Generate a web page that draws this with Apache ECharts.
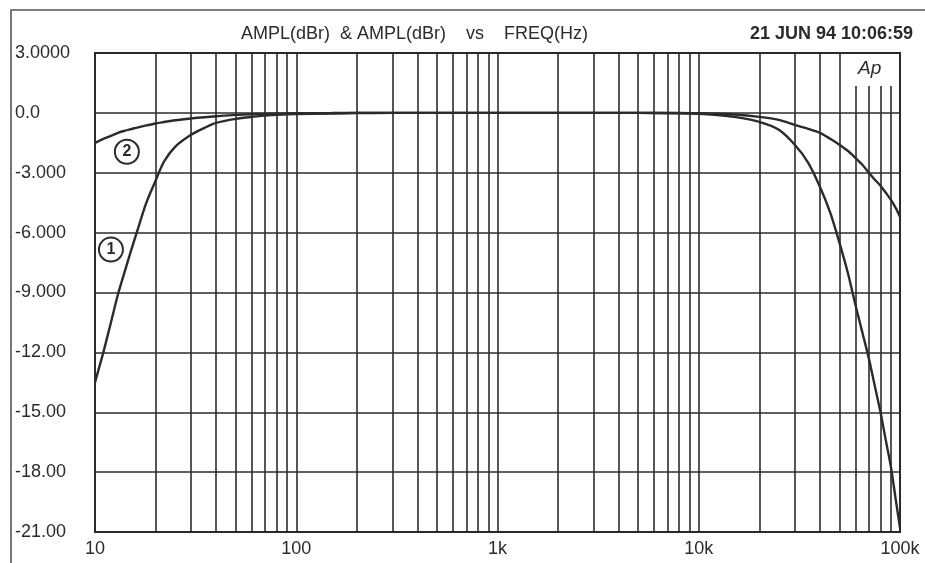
<!DOCTYPE html>
<html>
<head>
<meta charset="utf-8">
<script src="https://cdn.jsdelivr.net/npm/echarts@6/dist/echarts.min.js"></script>
<style>
  html, body { margin: 0; padding: 0; background: #fff; }
  #chart { width: 925px; height: 563px; }
</style>
</head>
<body>
<div id="chart"></div>
<script>
// frequencies (Hz) the two traces were read at
const freqs = [10, 11, 12, 13, 14, 15, 16, 18, 20, 22, 25, 30, 35, 40, 50, 60, 70, 80, 100, 150, 200, 300, 500, 1000,
  2000, 5000, 8000, 10000, 12000, 15000, 20000, 25000, 30000, 35000, 40000, 45000, 50000, 55000, 60000, 65000,
  70000, 75000, 80000, 85000, 90000, 95000, 100000];

// trace 1 (dBr)
const ampl1 = [-13.5, -12.0, -10.5, -9.1, -8.0, -7.0, -6.1, -4.5, -3.4, -2.45, -1.7, -1.1, -0.75, -0.5, -0.3, -0.2,
  -0.14, -0.1, -0.06, -0.03, -0.01, 0, 0, 0,
  0, 0, -0.02, -0.05, -0.1, -0.2, -0.45, -0.85, -1.6, -2.5, -3.7, -5.0, -6.5, -8.0, -9.6, -11.0,
  -12.3, -13.7, -15.0, -16.4, -17.7, -19.3, -20.8];

// trace 2 (dBr)
const ampl2 = [-1.5, -1.3, -1.15, -1.0, -0.9, -0.82, -0.75, -0.63, -0.53, -0.46, -0.37, -0.28, -0.22, -0.17, -0.1, -0.07,
  -0.05, -0.04, -0.02, -0.01, 0, 0, 0, 0,
  0, 0, -0.01, -0.02, -0.04, -0.08, -0.2, -0.35, -0.6, -0.8, -1.0, -1.3, -1.6, -1.9, -2.25, -2.6,
  -3.0, -3.35, -3.65, -4.0, -4.35, -4.75, -5.2];

const xTickValues = [10, 100, 1000, 10000, 100000];
const xTickLabels = ["10", "100", "1k", "10k", "100k"];
const yTickValues = [3, 0, -3, -6, -9, -12, -15, -18, -21];
const yTickLabels = ["3.0000", "0.0", "-3.000", "-6.000", "-9.000", "-12.00", "-15.00", "-18.00", "-21.00"];

// trace tags: circled number placed at [freq, dBr]
const traceTags = [
  { text: "1", freq: 12.0, db: -6.85 },
  { text: "2", freq: 14.4, db: -1.95 },
];

const ink = "#2b2b2b";
const font = "'Liberation Sans', Arial, sans-serif";

// log-spaced vertical grid: 2..9 within every decade
const minorGrid = [];
for (let d = 10; d < 100000; d *= 10) {
  for (let m = 2; m <= 9; m++) {
    minorGrid.push(d * m);
  }
}

function tagPoint(tag) {
  return {
    coord: [tag.freq, tag.db],
    value: tag.text,
    symbol: "circle",
    symbolSize: 24,
    itemStyle: { color: "#fff", borderColor: ink, borderWidth: 2 },
    label: {
      show: true,
      formatter: tag.text,
      color: ink,
      fontSize: 16,
      fontWeight: "bold",
      fontFamily: font,
    },
  };
}

const chart = echarts.init(document.getElementById("chart"));

chart.setOption({
  animation: false,
  backgroundColor: "#fff",
  title: [
    {
      text: "AMPL(dBr)  & AMPL(dBr)    vs    FREQ(Hz)",
      left: 236,
      top: 20,
      textStyle: { color: ink, fontSize: 18, fontWeight: "normal", fontFamily: font },
    },
    {
      text: "21 JUN 94 10:06:59",
      right: 7,
      top: 20,
      textStyle: { color: ink, fontSize: 18, fontWeight: "bold", fontFamily: font },
    },
  ],
  grid: { left: 95, right: 25, top: 53, bottom: 31, show: true, borderColor: ink, borderWidth: 2, backgroundColor: "#fff" },
  xAxis: {
    type: "log",
    logBase: 10,
    min: 10,
    max: 100000,
    axisLine: { show: false },
    axisTick: { show: false },
    splitLine: { show: true, lineStyle: { color: ink, width: 1.6 } },
    axisLabel: {
      color: ink,
      fontSize: 18,
      fontFamily: font,
      margin: 8,
      formatter: (v) => {
        const i = xTickValues.findIndex((t) => Math.abs(t - v) < t * 1e-6);
        return i >= 0 ? xTickLabels[i] : "";
      },
    },
  },
  yAxis: {
    type: "value",
    min: -21,
    max: 3,
    interval: 3,
    axisLine: { show: false },
    axisTick: { show: false },
    splitLine: { show: true, lineStyle: { color: ink, width: 1.6 } },
    axisLabel: {
      color: ink,
      fontSize: 18,
      fontFamily: font,
      align: "left",
      margin: 80,
      formatter: (v) => {
        const i = yTickValues.indexOf(Math.round(v));
        return i >= 0 ? yTickLabels[i] : "";
      },
    },
  },
  series: [
    {
      name: "grid",
      type: "line",
      data: [],
      silent: true,
      markLine: {
        silent: true,
        symbol: "none",
        animation: false,
        label: { show: false },
        lineStyle: { color: ink, width: 1.6, type: "solid" },
        data: minorGrid.map((f) => ({ xAxis: f })),
      },
    },
    {
      name: "AMPL 1",
      type: "line",
      showSymbol: false,
      smooth: 0.3,
      z: 5,
      lineStyle: { color: ink, width: 2.4 },
      data: freqs.map((f, i) => [f, ampl1[i]]),
      markPoint: { data: [tagPoint(traceTags[0])] },
    },
    {
      name: "AMPL 2",
      type: "line",
      showSymbol: false,
      smooth: 0.3,
      z: 5,
      lineStyle: { color: ink, width: 2.4 },
      data: freqs.map((f, i) => [f, ampl2[i]]),
      markPoint: { data: [tagPoint(traceTags[1])] },
    },
  ],
  graphic: [
    // outer page frame
    {
      type: "rect",
      z: 100,
      silent: true,
      shape: { x: 11, y: 10, width: 960, height: 600 },
      style: { fill: null, stroke: "#555", lineWidth: 1.6 },
    },
    // "Ap" badge masking the top of the upper grid lines
    {
      type: "rect",
      z: 100,
      silent: true,
      shape: { x: 848, y: 54, width: 50, height: 32 },
      style: { fill: "#fff" },
    },
    {
      type: "text",
      z: 101,
      silent: true,
      left: 858,
      top: 59,
      style: { text: "Ap", fill: ink, fontSize: 19, fontStyle: "italic", fontFamily: font },
    },
  ],
});
</script>
</body>
</html>
